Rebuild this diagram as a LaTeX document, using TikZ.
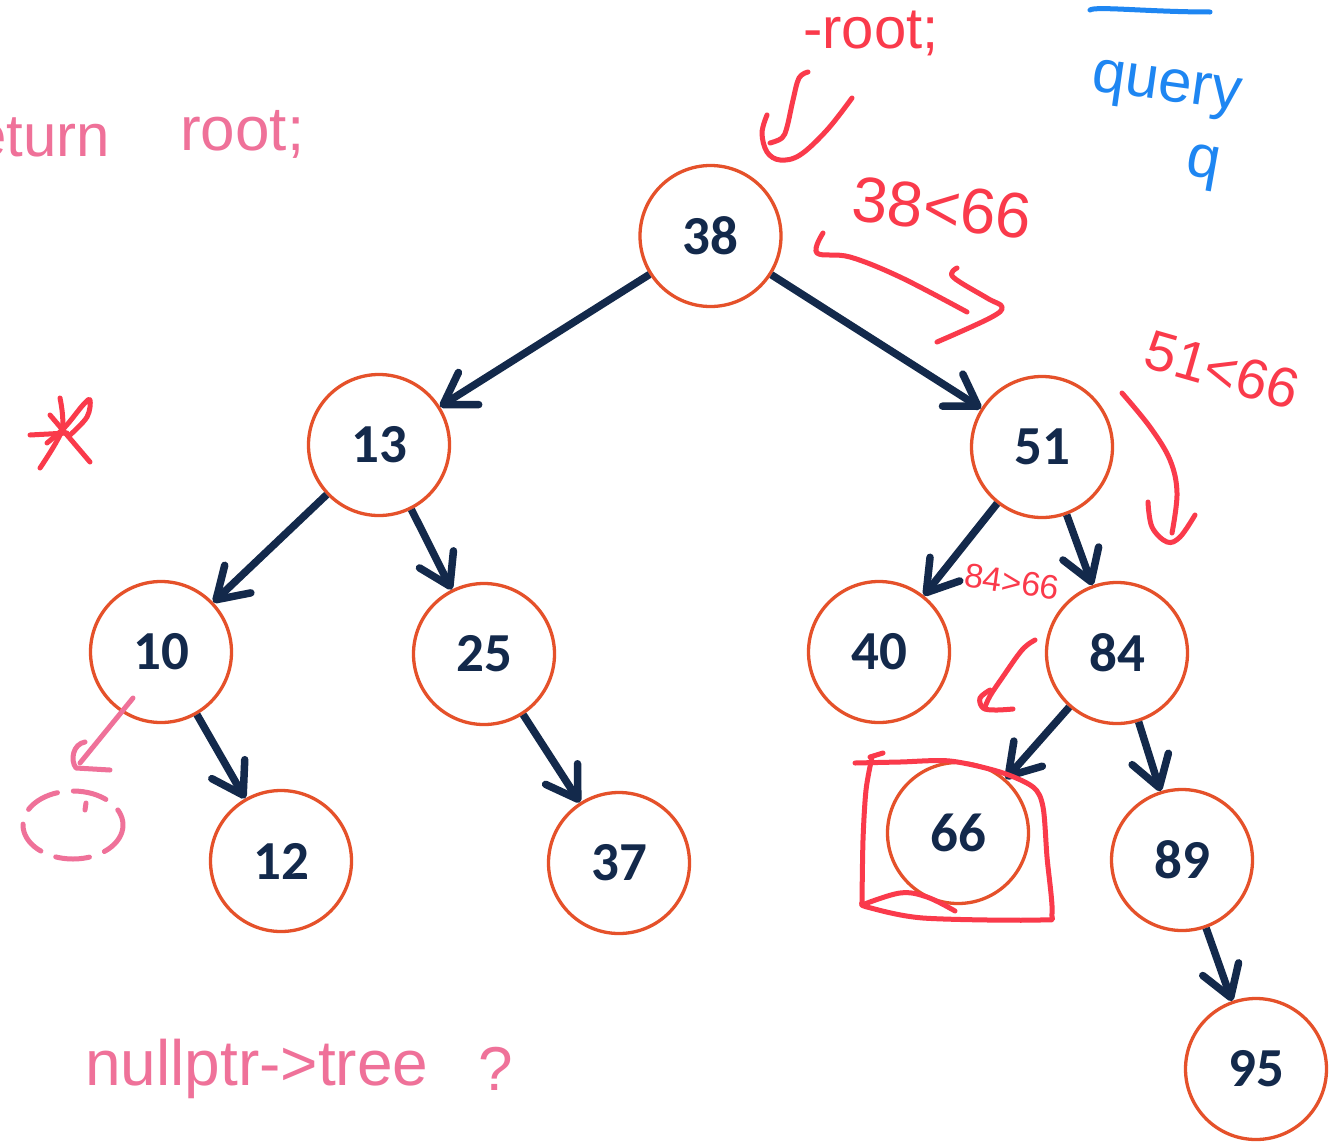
\documentclass[tikz,border=0pt]{standalone}
\usepackage{fontspec}
\setmainfont{Liberation Sans}
\newfontfamily\keyfont{Carlito}
\usetikzlibrary{arrows.meta}

\definecolor{navy}{HTML}{13294B}
\definecolor{ring}{HTML}{E5512A}
\definecolor{ink}{HTML}{FA3A4B}
\definecolor{pinkink}{HTML}{EF7199}
\definecolor{blueink}{HTML}{1E86F2}

\tikzset{
  key/.style={circle, draw=ring, line width=3.3pt, minimum size=141pt,
    inner sep=0pt, fill=white, text=navy,
    font=\keyfont\bfseries\fontsize{55}{55}\selectfont},
  child/.style={navy, line width=7.5pt,
    -{Straight Barb[length=30pt,width=38pt,round]}},
  redpen/.style={ink, line width=5pt, line cap=round, line join=round},
  pinkpen/.style={pinkink, line width=5pt, line cap=round, line join=round},
  bluepen/.style={blueink, line width=5pt, line cap=round, line join=round},
  rednote/.style={text=ink, inner sep=0pt},
  pinknote/.style={text=pinkink, inner sep=0pt},
  bluenote/.style={text=blueink, inner sep=0pt},
}

\newcommand{\hand}[1]{\fontsize{#1}{#1}\selectfont}

\begin{document}
\begin{tikzpicture}[x=1pt,y=-1pt]
\fill[white] (0,0) rectangle (1332,1146);
\useasboundingbox (0,0) rectangle (1332,1146);

% binary search tree keys
\node[key] (n38) at (710.5,236) {38};
\node[key] (n13) at (379,445) {13};
\node[key] (n51) at (1042,447) {51};
\node[key] (n10) at (161,652) {10};
\node[key] (n25) at (484,654) {25};
\node[key] (n40) at (879,652) {40};
\node[key] (n84) at (1117,653) {84};
\node[key] (n12) at (281,861) {12};
\node[key] (n37) at (619,863) {37};
\node[key] (n66) at (958,833) {66};
\node[key] (n89) at (1182,860) {89};
\node[key] (n95) at (1256,1069) {95};

% parent -> child links
\draw[child] (n38) -- (n13);
\draw[child] (n38) -- (n51);
\draw[child] (n13) -- (n10);
\draw[child] (n13) -- (n25);
\draw[child] (n51) -- (n40);
\draw[child] (n51) -- (n84);
\draw[child] (n10) -- (n12);
\draw[child] (n25) -- (n37);
\draw[child] (n84) -- (n66);
\draw[child] (n84) -- (n89);
\draw[child] (n89) -- (n95);

% pink notes
\node[pinknote, anchor=base east] (ret) at (110,156) {\hand{60}return};
\node[pinknote, anchor=base west] (retroot) at (180,150) {\hand{62}root;};
\node[pinknote, anchor=base west] (nullq) at (85,1085) {\hand{64}nullptr->tree};
\node[pinknote, anchor=base west] (qmark) at (478,1090) {\hand{62}?};

% pink arrow from 10 to an empty (dashed) child
\draw[pinkpen] (133,698) -- (80,763);
\draw[pinkpen] (85,742) .. controls (73,744) and (70,760) .. (76,768) -- (110,770);
\draw[pinkpen, dash pattern=on 34pt off 16pt] (73,825) ellipse [x radius=50, y radius=34];
\draw[pinkpen] (86,803) -- (85,810);

% red notes
\node[rednote, anchor=base west] (rootnote) at (803,48) {\hand{58}-root;};
\node[rednote, rotate=-6] (cmp1) at (942,208) {\hand{64}38<66};
\node[rednote, rotate=-16] (cmp2) at (1222,370) {\hand{56}51<66};
\node[rednote, rotate=-8] (cmp3) at (1012,582) {\hand{34}84>66};

% red marks: arrow under -root;
\draw[redpen] plot[smooth, tension=0.6] coordinates {(808,72) (799,78) (793,100) (787,127) (782,138) (770,143)};
\draw[redpen] plot[smooth, tension=0.6] coordinates {(767,115) (762,133) (767,152) (780,160) (800,155) (827,130) (852,98)};

% red arrow 38 -> 51
\draw[redpen] plot[smooth, tension=0.6] coordinates {(823,233) (817,253) (850,257) (900,277) (967,312)};
\draw[redpen] plot[smooth, tension=0.6] coordinates {(957,268) (953,277) (987,298) (1002,307) (990,318) (937,342)};

% red arrow 51 -> 84
\draw[redpen] plot[smooth, tension=0.6] coordinates {(1122,393) (1150,427) (1170,460) (1177,493) (1172,533)};
\draw[redpen] plot[smooth, tension=0.6] coordinates {(1148,502) (1152,527) (1167,542) (1180,537) (1195,515)};

% red mark left of 84
\draw[redpen] plot[smooth, tension=0.6] coordinates {(1035,640) (1022,650) (1002,678) (990,696) (985,707)};
\draw[redpen] plot[smooth, tension=0.6] coordinates {(990,690) (980,698) (983,708) (995,710) (1013,709)};

% red box around the found key
\draw[redpen] plot[smooth, tension=0.5] coordinates {(855,763) (900,762) (950,761) (1000,772) (1033,787) (1043,807) (1047,857) (1052,913) (1040,920) (923,918) (867,907) (862,903)};
\draw[redpen] plot[smooth, tension=0.5] coordinates {(872,757) (866,790) (863,840) (862,903)};
\draw[redpen] (870,757) -- (883,753);
\draw[redpen] plot[smooth, tension=0.6] coordinates {(862,905) (900,893) (927,897) (955,911)};

% red star
\draw[redpen] plot[smooth, tension=0.5] coordinates {(60,398) (62,430) (40,468)};
\draw[redpen] (30,435) -- (67,433);
\draw[redpen] (50,415) -- (90,462);
\draw[redpen] plot[smooth, tension=0.6] coordinates {(47,443) (65,427) (83,405) (90,400) (87,417) (70,435)};

% blue notes
\draw[bluepen] (1090,10) .. controls (1095,6) and (1150,12) .. (1210,12);
\node[bluenote, rotate=-8, anchor=base west] (query) at (1090,90) {\hand{60}query};
\node[bluenote, rotate=-10] (qvar) at (1203,168) {\hand{60}q};
\end{tikzpicture}
\end{document}
